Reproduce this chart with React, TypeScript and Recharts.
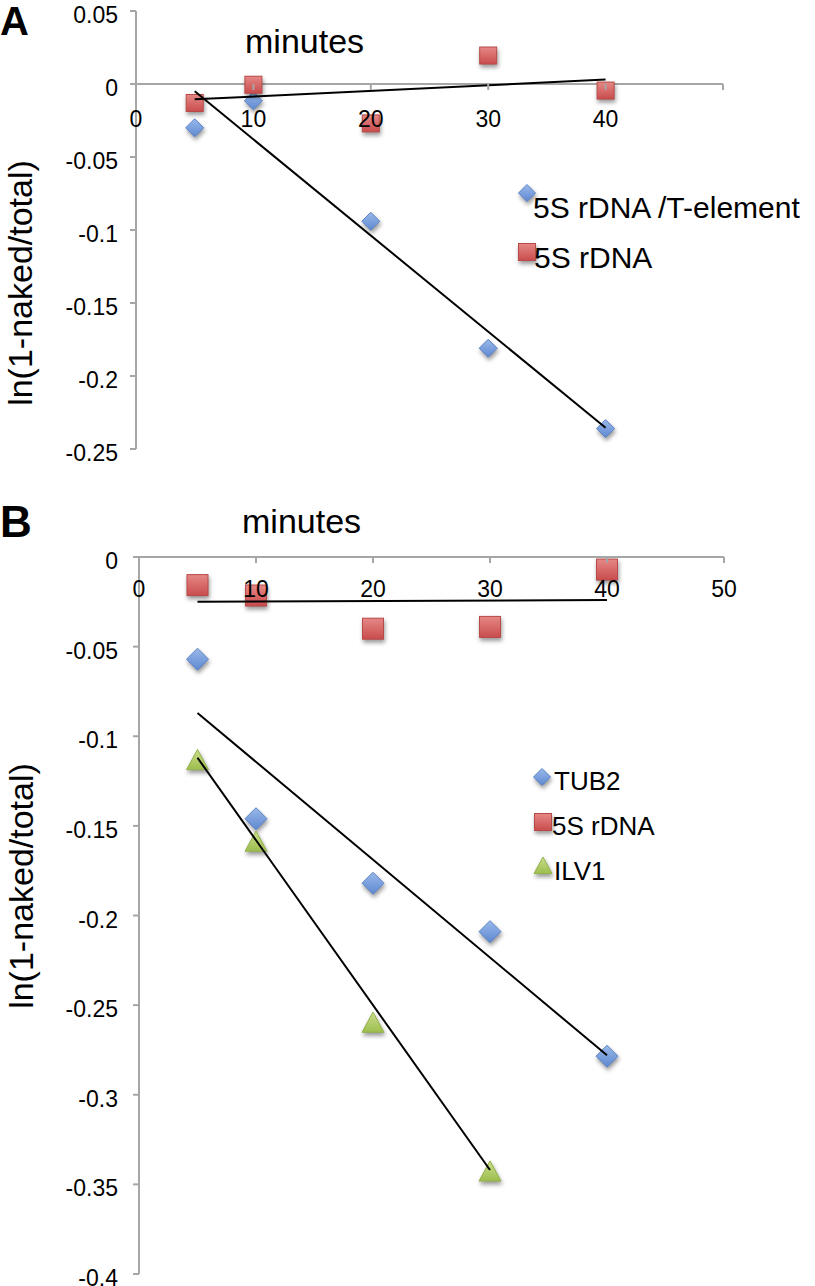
import React from 'react';
import { ScatterChart, Scatter, XAxis, YAxis, ReferenceLine, Legend } from 'recharts';

const FONT = "'Liberation Sans', Arial, Helvetica, sans-serif";
const AXIS_GREY = '#a6a6a6';

// ---- panel A data ----
const seriesNamesA = ['5S rDNA /T-element', '5S rDNA'];
const minutesA = [5, 10, 20, 30, 40];
const tElementA = [-0.03, -0.0115, -0.094, -0.181, -0.236];
const rdnaA = [-0.013, -0.0005, -0.027, 0.0195, -0.0045];
const trendXA = [5, 40];
const trendTElementA = [-0.005, -0.2355];
const trendRdnaA = [-0.0105, 0.003];

// ---- panel B data ----
const seriesNamesB = ['TUB2', '5S rDNA', 'ILV1'];
const minutesB = [5, 10, 20, 30, 40];
const tub2B = [-0.057, -0.146, -0.182, -0.209, -0.2785];
const rdnaB = [-0.0157, -0.0215, -0.04, -0.039, -0.007];
const minutesILV1 = [5, 10, 20, 30];
const ilv1B = [-0.1135, -0.159, -0.26, -0.343];
const trendXB = [5, 40];
const trendTub2B = [-0.087, -0.278];
const trendRdnaB = [-0.025, -0.024];
const trendXILV1 = [5, 30];
const trendIlv1B = [-0.112, -0.342];

const xTicks = [0, 10, 20, 30, 40, 50];
const yTicksA = [0.05, 0, -0.05, -0.1, -0.15, -0.2, -0.25];
const yTicksB = [0, -0.05, -0.1, -0.15, -0.2, -0.25, -0.3, -0.35, -0.4];

const toPoints = (xs: number[], ys: number[]) => xs.map((x, i) => ({ x, y: ys[i] }));

const shadow = 'drop-shadow(1px 3px 2px rgba(0,0,0,0.4))';

const drawDiamond = (cx: number, cy: number, r: number) => (
  <polygon
    points={`${cx},${cy - r} ${cx + r},${cy} ${cx},${cy + r} ${cx - r},${cy}`}
    fill="url(#gradBlue)"
    stroke="#5b83c8"
    strokeWidth={1}
    style={{ filter: shadow }}
  />
);
const drawSquare = (cx: number, cy: number, s: number) => (
  <rect
    x={cx - s / 2}
    y={cy - s / 2}
    width={s}
    height={s}
    fill="url(#gradRed)"
    stroke="#b74a48"
    strokeWidth={1}
    style={{ filter: shadow }}
  />
);
const drawTriangle = (cx: number, cy: number, w: number) => (
  <polygon
    points={`${cx},${cy - w / 2} ${cx + w / 2},${cy + w * 0.42} ${cx - w / 2},${cy + w * 0.42}`}
    fill="url(#gradGreen)"
    stroke="#93b24a"
    strokeWidth={1}
    style={{ filter: shadow }}
  />
);

const diamondShape = (r: number) => (p: any) => drawDiamond(p.cx, p.cy, r);
const squareShape = (s: number) => (p: any) => drawSquare(p.cx, p.cy, s);
const triangleShape = (w: number) => (p: any) => drawTriangle(p.cx, p.cy, w);
const noShape = () => <g />;

// x ticks sit on the y=0 line, not at the bottom of the plot
const makeXTick = (zeroY: number, labelDy: number, hideLabels: number[]) => (props: any) => {
  const { x, payload } = props;
  const v = payload.value;
  return (
    <g>
      {v !== 0 && <line x1={x} x2={x} y1={zeroY} y2={zeroY + 6} stroke={AXIS_GREY} strokeWidth={2} />}
      {!hideLabels.includes(v) && (
        <text x={x} y={zeroY + labelDy} textAnchor="middle" fontFamily={FONT} fontSize={23} fill="#000">
          {v}
        </text>
      )}
    </g>
  );
};

const yTick = (props: any) => {
  const { x, y, payload } = props;
  return (
    <text x={x} y={y + 12} textAnchor="end" fontFamily={FONT} fontSize={23} fill="#000">
      {String(payload.value)}
    </text>
  );
};

type Row = { ix: number; iy: number; tx: number; ty: number };

const makeLegend = (order: string[], rows: Row[], fontSize: number, iconSize: number) => (props: any) => {
  const items = (props.payload || [])
    .filter((e: any) => e.type !== 'none')
    .sort((a: any, b: any) => order.indexOf(a.value) - order.indexOf(b.value));
  return (
    <svg width={310} height={140} style={{ overflow: 'visible' }}>
      {items.map((e: any, i: number) => {
        const r = rows[i];
        let icon = null;
        if (e.type === 'diamond') icon = drawDiamond(r.ix, r.iy, iconSize / 2);
        else if (e.type === 'square') icon = drawSquare(r.ix, r.iy, iconSize);
        else icon = drawTriangle(r.ix, r.iy, iconSize + 1);
        return (
          <g key={e.value}>
            {icon}
            <text x={r.tx} y={r.ty} fontFamily={FONT} fontSize={fontSize} fill="#000">
              {e.value}
            </text>
          </g>
        );
      })}
    </svg>
  );
};

const legendA = makeLegend(
  seriesNamesA,
  [
    { ix: 17, iy: 23, tx: 23, ty: 48 },
    { ix: 17, iy: 82, tx: 24, ty: 98 },
  ],
  30,
  17
);
const legendB = makeLegend(
  seriesNamesB,
  [
    { ix: 17, iy: 17, tx: 29, ty: 30 },
    { ix: 18, iy: 62, tx: 27, ty: 75 },
    { ix: 18, iy: 106, tx: 29, ty: 120 },
  ],
  26,
  17
);

const axisLineStyle = { stroke: AXIS_GREY, strokeWidth: 2 };

const App: React.FC = () => {
  return (
    <div style={{ position: 'absolute', left: 0, top: 0, width: 815, height: 1286, background: '#fff' }}>
      <svg width={0} height={0} style={{ position: 'absolute' }}>
        <defs>
          <linearGradient id="gradBlue" x1="0" y1="0" x2="0" y2="1">
            <stop offset="0%" stopColor="#9bb9ea" />
            <stop offset="100%" stopColor="#5d88d0" />
          </linearGradient>
          <linearGradient id="gradRed" x1="0" y1="0" x2="0" y2="1">
            <stop offset="0%" stopColor="#e58886" />
            <stop offset="100%" stopColor="#c94c4c" />
          </linearGradient>
          <linearGradient id="gradGreen" x1="0" y1="0" x2="0" y2="1">
            <stop offset="0%" stopColor="#cadf8c" />
            <stop offset="100%" stopColor="#9dbd4e" />
          </linearGradient>
        </defs>
      </svg>

      {/* panel A */}
      <div style={{ position: 'absolute', left: 0, top: 0 }}>
        <ScatterChart width={815} height={480} margin={{ top: 11, right: 92, bottom: 0, left: 0 }}>
          <XAxis
            type="number"
            dataKey="x"
            domain={[0, 50]}
            ticks={xTicks}
            interval={0}
            axisLine={false}
            tickLine={false}
            height={31}
            tick={makeXTick(84, 43, [50])}
          />
          <YAxis
            type="number"
            dataKey="y"
            domain={[-0.25, 0.05]}
            ticks={yTicksA}
            interval={0}
            width={136}
            tickSize={6}
            tickMargin={12}
            axisLine={axisLineStyle}
            tickLine={axisLineStyle}
            tick={yTick}
          />
          <ReferenceLine y={0} stroke={AXIS_GREY} strokeWidth={2} />
          <Legend
            layout="horizontal"
            verticalAlign="middle"
            align="center"
            wrapperStyle={{ left: 510, top: 170, width: 310 }}
            content={legendA}
          />
          <Scatter
            name={seriesNamesA[0]}
            data={toPoints(minutesA, tElementA)}
            shape={diamondShape(9)}
            legendType="diamond"
            isAnimationActive={false}
          />
          <Scatter
            name={seriesNamesA[1]}
            data={toPoints(minutesA, rdnaA)}
            shape={squareShape(17)}
            legendType="square"
            isAnimationActive={false}
          />
          <Scatter
            name="trend T-element"
            data={toPoints(trendXA, trendTElementA)}
            line={{ stroke: '#000', strokeWidth: 2 }}
            shape={noShape}
            legendType="none"
            isAnimationActive={false}
          />
          <Scatter
            name="trend 5S"
            data={toPoints(trendXA, trendRdnaA)}
            line={{ stroke: '#000', strokeWidth: 2 }}
            shape={noShape}
            legendType="none"
            isAnimationActive={false}
          />
        </ScatterChart>
      </div>

      {/* panel B */}
      <div style={{ position: 'absolute', left: 0, top: 480 }}>
        <ScatterChart width={815} height={806} margin={{ top: 77, right: 91, bottom: 0, left: 0 }}>
          <XAxis
            type="number"
            dataKey="x"
            domain={[0, 50]}
            ticks={xTicks}
            interval={0}
            axisLine={false}
            tickLine={false}
            height={12}
            tick={makeXTick(77, 40, [])}
          />
          <YAxis
            type="number"
            dataKey="y"
            domain={[-0.4, 0]}
            ticks={yTicksB}
            interval={0}
            width={139}
            tickSize={6}
            tickMargin={15}
            axisLine={axisLineStyle}
            tickLine={axisLineStyle}
            tick={yTick}
          />
          <ReferenceLine y={0} stroke={AXIS_GREY} strokeWidth={2} />
          <Legend
            layout="horizontal"
            verticalAlign="middle"
            align="center"
            wrapperStyle={{ left: 525, top: 280, width: 310 }}
            content={legendB}
          />
          <Scatter
            name={seriesNamesB[0]}
            data={toPoints(minutesB, tub2B)}
            shape={diamondShape(11)}
            legendType="diamond"
            isAnimationActive={false}
          />
          <Scatter
            name={seriesNamesB[1]}
            data={toPoints(minutesB, rdnaB)}
            shape={squareShape(21)}
            legendType="square"
            isAnimationActive={false}
          />
          <Scatter
            name={seriesNamesB[2]}
            data={toPoints(minutesILV1, ilv1B)}
            shape={triangleShape(22)}
            legendType="triangle"
            isAnimationActive={false}
          />
          <Scatter
            name="trend TUB2"
            data={toPoints(trendXB, trendTub2B)}
            line={{ stroke: '#000', strokeWidth: 2 }}
            shape={noShape}
            legendType="none"
            isAnimationActive={false}
          />
          <Scatter
            name="trend 5S"
            data={toPoints(trendXB, trendRdnaB)}
            line={{ stroke: '#000', strokeWidth: 2 }}
            shape={noShape}
            legendType="none"
            isAnimationActive={false}
          />
          <Scatter
            name="trend ILV1"
            data={toPoints(trendXILV1, trendIlv1B)}
            line={{ stroke: '#000', strokeWidth: 2 }}
            shape={noShape}
            legendType="none"
            isAnimationActive={false}
          />
        </ScatterChart>
      </div>

      {/* panel letters and axis titles */}
      <svg
        width={815}
        height={1286}
        style={{ position: 'absolute', left: 0, top: 0, pointerEvents: 'none' }}
        fontFamily={FONT}
      >
        <text x={0} y={35} fontSize={40} fontWeight="bold">A</text>
        <text x={245} y={53} fontSize={34}>minutes</text>
        <text transform="translate(32, 283) rotate(-90)" textAnchor="middle" fontSize={34}>
          ln(1-naked/total)
        </text>
        <text x={0} y={537} fontSize={44} fontWeight="bold">B</text>
        <text x={242} y={533} fontSize={34}>minutes</text>
        <text transform="translate(33, 886) rotate(-90)" textAnchor="middle" fontSize={34}>
          ln(1-naked/total)
        </text>
      </svg>
    </div>
  );
};

export default App;
